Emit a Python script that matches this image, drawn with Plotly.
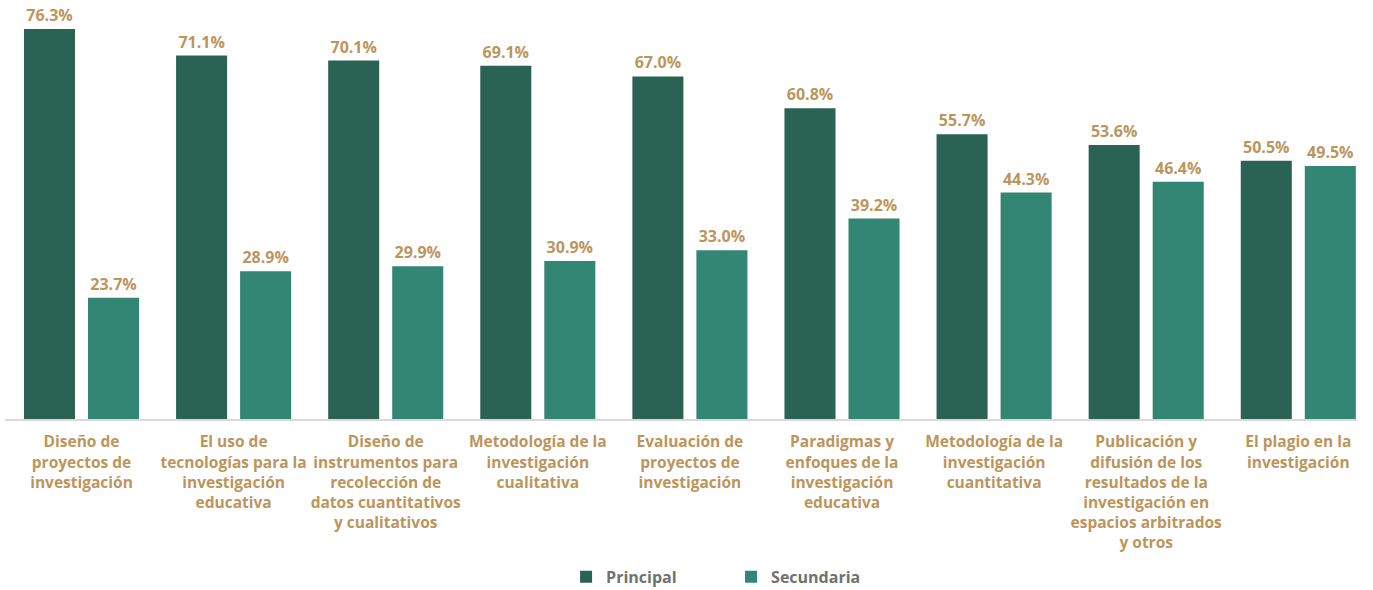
import plotly.graph_objects as go

categories = [
    "Diseño de<br>proyectos de<br>investigación",
    "El uso de<br>tecnologías para la<br>investigación<br>educativa",
    "Diseño de<br>instrumentos para<br>recolección de<br>datos cuantitativos<br>y cualitativos",
    "Metodología de la<br>investigación<br>cualitativa",
    "Evaluación de<br>proyectos de<br>investigación",
    "Paradigmas y<br>enfoques de la<br>investigación<br>educativa",
    "Metodología de la<br>investigación<br>cuantitativa",
    "Publicación y<br>difusión de los<br>resultados de la<br>investigación en<br>espacios arbitrados<br>y otros",
    "El plagio en la<br>investigación",
]
principal = [76.3, 71.1, 70.1, 69.1, 67.0, 60.8, 55.7, 53.6, 50.5]
secundaria = [23.7, 28.9, 29.9, 30.9, 33.0, 39.2, 44.3, 46.4, 49.5]

gold = "#BC955C"
font_family = "Open Sans"

fig = go.Figure()
fig.add_trace(go.Bar(
    name="Principal", x=categories, y=principal,
    marker=dict(color="#2A6354", line=dict(width=0)),
    text=principal, texttemplate="%{y:.1f}%", textposition="outside",
    textfont=dict(color=gold, size=16, family=font_family, weight="bold"),
    cliponaxis=False,
))
fig.add_trace(go.Bar(
    name="Secundaria", x=categories, y=secundaria,
    marker=dict(color="#338673", line=dict(width=0)),
    text=secundaria, texttemplate="%{y:.1f}%", textposition="outside",
    textfont=dict(color=gold, size=16, family=font_family, weight="bold"),
    cliponaxis=False,
))

fig.update_layout(
    width=1373, height=590,
    margin=dict(l=5, r=16, t=10, b=171, autoexpand=False),
    plot_bgcolor="white", paper_bgcolor="white",
    barmode="group", bargap=0.158, bargroupgap=0.203,
    showlegend=True,
    legend=dict(
        orientation="h", x=0.415, xanchor="left", y=-0.386, yanchor="middle",
        font=dict(color="#6F7271", size=16, family=font_family, weight="bold"),
        entrywidth=120, itemwidth=30,
    ),
    xaxis=dict(
        range=[-0.503, 8.386],
        showline=True, linecolor="#D9D9D9", linewidth=1.5,
        tickfont=dict(color=gold, size=15.5, family=font_family, weight="bold"),
        tickangle=0,
        ticks="", showgrid=False, automargin=False, ticklabelstandoff=8,
    ),
    yaxis=dict(range=[0, 80], visible=False, showgrid=False, automargin=False),
)
fig.write_html(
    "out.html",
    config={"displayModeBar": False},
    post_script="document.body.style.margin='0';",
)
